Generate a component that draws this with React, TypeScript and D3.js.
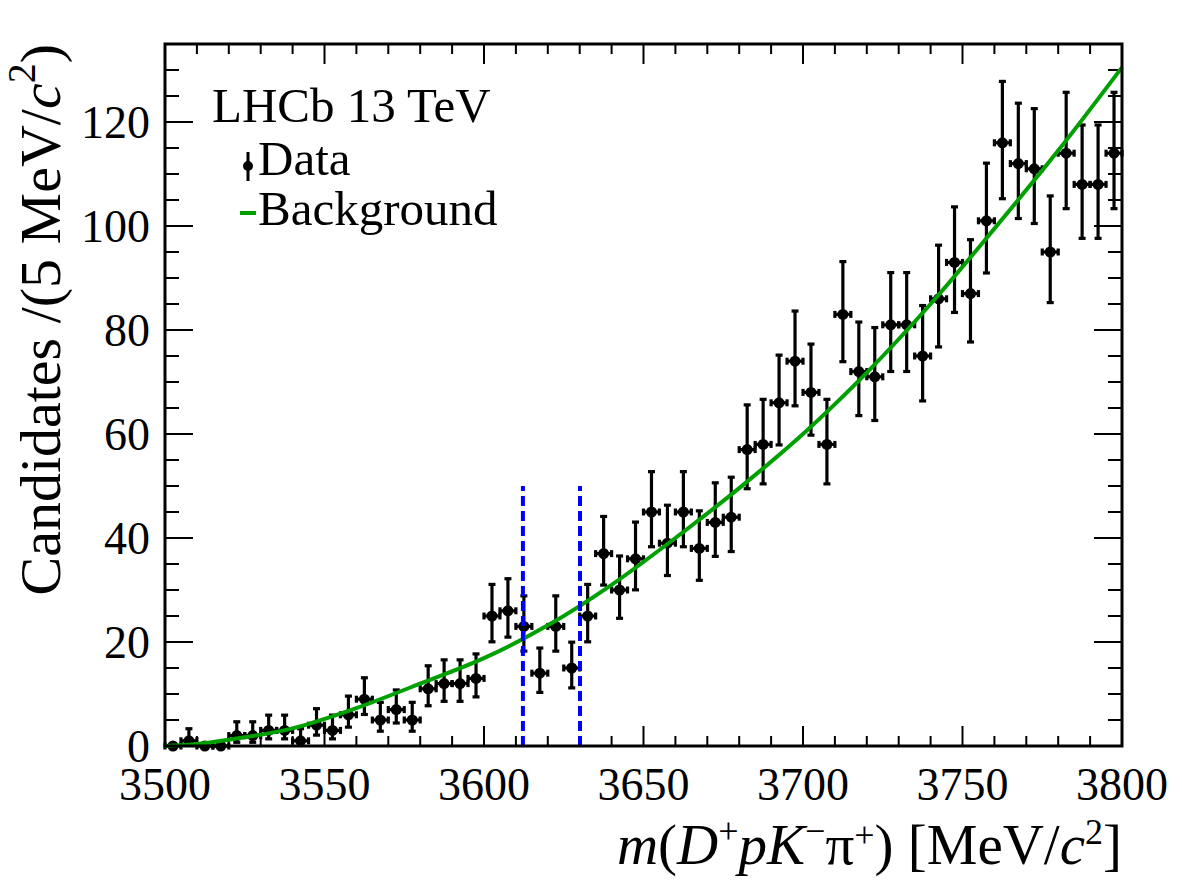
import React from 'react';
import * as d3 from 'd3';

// bin centres (5 MeV bins) and counts
const binCentres = d3.range(60).map(i => 3502.5 + i * 5);
const counts = [
  0, 1, 0, 0, 2, 2, 3, 3, 1, 4,
  3, 6, 9, 5, 7, 5, 11, 12, 12, 13,
  25, 26, 23, 14, 23, 15, 25, 37, 30, 36,
  45, 39, 45, 38, 43, 44, 57, 58, 66, 74,
  68, 58, 83, 72, 71, 81, 81, 75, 86, 93,
  87, 101, 116, 112, 111, 95, 114, 108, 108, 114,
];

// background fit curve
const bgMass = [3500, 3510, 3520, 3540, 3560, 3580, 3600, 3620, 3640, 3660, 3680, 3700, 3720, 3740, 3760, 3780, 3800];
const bgValue = [0, 0.4, 1.2, 3.4, 7.3, 12, 16.9, 23.2, 31, 40, 49.6, 60, 71.8, 85, 99.5, 114.5, 130.5];

// signal window markers
const windowEdges = [3612.2, 3630.1];
const windowHeight = 50;

const xTicks = [3500, 3550, 3600, 3650, 3700, 3750, 3800];
const yTicks = [0, 20, 40, 60, 80, 100, 120];

const W = 1182, H = 888;
const left = 165, right = 1122, top = 44, bottom = 746;
const FONT = '"Liberation Serif", "Times New Roman", serif';
const GREEN = '#00a000';

// Gehrels approx. of the poisson interval
function poissonErr(n: number) {
  const up = n + Math.sqrt(n + 0.75) + 1;
  const lo = n * Math.pow(1 - 1 / (9 * n) - 1 / (3 * Math.sqrt(n)), 3);
  return [lo, up];
}

export default function App() {
  const x = d3.scaleLinear().domain([3500, 3800]).range([left, right]);
  const y = d3.scaleLinear().domain([0, 135]).range([bottom, top]);

  const line = d3.line<number>()
    .x((d, i) => x(bgMass[i]))
    .y(d => y(d))
    .curve(d3.curveCatmullRom.alpha(0.5));

  const xMinor = d3.range(3500, 3801, 10);
  const yMinor = d3.range(0, 136, 5);

  return (
    <svg width={W} height={H} style={{position: 'absolute', left: 0, top: 0, background: '#fff'}} fontFamily={FONT}>
      {/* ticks on four sides */}
      <g stroke="#000" strokeWidth={2}>
        {xMinor.map(v => {
          const len = v % 50 === 0 ? 20 : 10;
          return (
            <g key={'x' + v}>
              <line x1={x(v)} x2={x(v)} y1={bottom} y2={bottom - len} />
              <line x1={x(v)} x2={x(v)} y1={top} y2={top + len} />
            </g>
          );
        })}
        {yMinor.map(v => {
          const len = v % 20 === 0 ? 28 : 14;
          return (
            <g key={'y' + v}>
              <line x1={left} x2={left + len} y1={y(v)} y2={y(v)} />
              <line x1={right} x2={right - len} y1={y(v)} y2={y(v)} />
            </g>
          );
        })}
      </g>

      {/* data points */}
      <g stroke="#000" strokeWidth={3.2} fill="#000">
        {counts.map((n, i) => {
          const cx = x(binCentres[i]);
          const cy = y(n);
          const xl = x(binCentres[i] - 2.5), xr = x(binCentres[i] + 2.5);
          const cap = 3.5;
          let vert = null;
          if (n > 0) {
            const [lo, up] = poissonErr(n);
            vert = (
              <g>
                <line x1={cx} x2={cx} y1={y(lo)} y2={y(up)} />
                <line x1={cx - cap} x2={cx + cap} y1={y(lo)} y2={y(lo)} />
                <line x1={cx - cap} x2={cx + cap} y1={y(up)} y2={y(up)} />
              </g>
            );
          }
          return (
            <g key={i}>
              <line x1={xl} x2={xr} y1={cy} y2={cy} />
              <line x1={xl} x2={xl} y1={cy - cap} y2={cy + cap} />
              <line x1={xr} x2={xr} y1={cy - cap} y2={cy + cap} />
              {vert}
              <circle cx={cx} cy={cy} r={5.5} stroke="none" />
            </g>
          );
        })}
      </g>

      {/* background */}
      <path d={line(bgValue) || ''} fill="none" stroke={GREEN} strokeWidth={4} />

      {/* window lines */}
      {windowEdges.map(m => (
        <line key={m} x1={x(m)} x2={x(m)} y1={y(0)} y2={y(windowHeight)}
          stroke="#0000ff" strokeWidth={4} strokeDasharray="10 5" />
      ))}

      {/* frame */}
      <rect x={left} y={top} width={right - left} height={bottom - top} fill="none" stroke="#000" strokeWidth={3} />

      {/* tick labels */}
      <g fontSize={46} fill="#000">
        {xTicks.map(v => (
          <text key={v} x={x(v)} y={800} textAnchor="middle">{v}</text>
        ))}
        {yTicks.map(v => (
          <text key={v} x={150} y={y(v) + 16} textAnchor="end">{v}</text>
        ))}
      </g>

      {/* axis titles */}
      <text x={right} y={864} textAnchor="end" fontSize={57} fill="#000">
        <tspan fontStyle="italic">m</tspan>(<tspan fontStyle="italic">D</tspan>
        <tspan fontSize={36} dy={-21}>+</tspan>
        <tspan fontStyle="italic" dy={21}>pK</tspan>
        <tspan fontSize={36} dy={-21}>−</tspan>
        <tspan dy={21}>π</tspan>
        <tspan fontSize={36} dy={-17}>+</tspan>
        <tspan dy={17}>) [MeV/</tspan>
        <tspan fontStyle="italic">c</tspan>
        <tspan fontSize={36} dy={-20}>2</tspan>
        <tspan dy={20}>]</tspan>
      </text>
      <text transform={`translate(60,${top}) rotate(-90)`} textAnchor="end" fontSize={58} fill="#000">
        Candidates /(5 MeV/<tspan fontStyle="italic">c</tspan>
        <tspan fontSize={40} dy={-25}>2</tspan>
        <tspan dy={25}>)</tspan>
      </text>

      {/* legend */}
      <text x={212} y={122} fontSize={49} fill="#000">LHCb 13 TeV</text>
      <g stroke="#000" strokeWidth={3}>
        <line x1={248} x2={248} y1={152} y2={181} />
        <circle cx={248} cy={166} r={5} fill="#000" stroke="none" />
      </g>
      <text x={258} y={175} fontSize={49} fill="#000">Data</text>
      <line x1={240} x2={256} y1={213} y2={213} stroke={GREEN} strokeWidth={4} />
      <text x={258} y={225} fontSize={49} fill="#000">Background</text>
    </svg>
  );
}
